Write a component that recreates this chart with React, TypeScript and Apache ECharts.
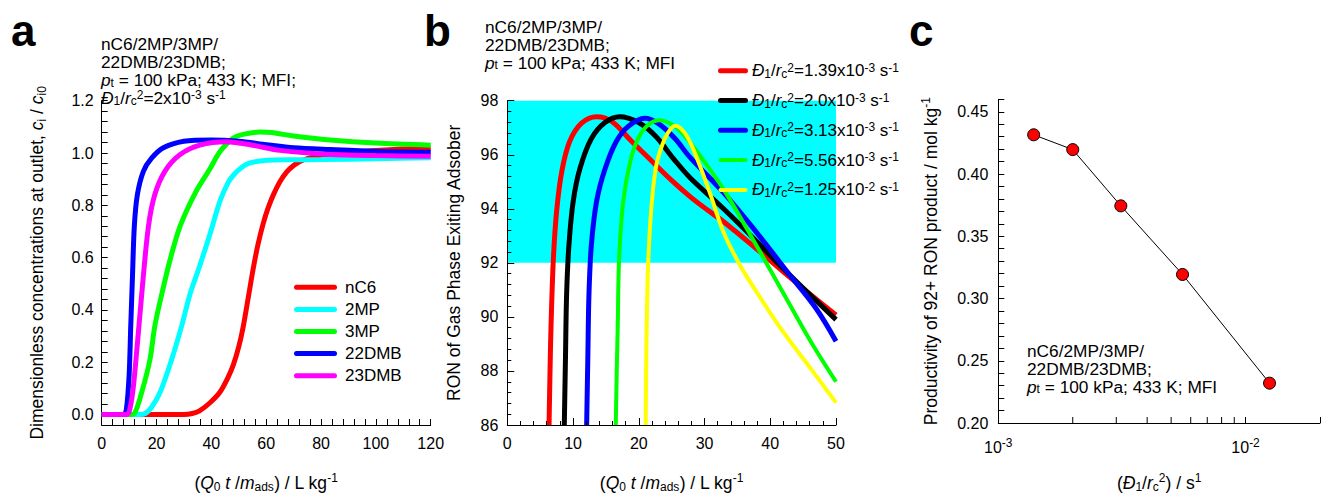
import React, { useEffect, useRef } from 'react';
import * as echarts from 'echarts';

const FONT = 'Liberation Sans, Arial, Helvetica, sans-serif';

// ---------- Panel a: breakthrough curves (x: Q0 t / m_ads, y: c_i / c_i0) ----------
const componentNames = ['nC6', '2MP', '3MP', '22DMB', '23DMB'];
const nC6 = [[0, 0], [30, 0], [33, 0.004], [35.8, 0.015], [39.5, 0.045], [43.1, 0.085], [46, 0.14], [48, 0.19], [50, 0.26], [51.6, 0.335], [53.5, 0.45], [55.3, 0.56], [57, 0.65], [58.9, 0.73], [60.7, 0.79], [62.6, 0.84], [65, 0.89], [67.5, 0.928], [70, 0.952], [72.3, 0.968], [77.2, 0.985], [83.3, 0.995], [90, 1.003], [100, 1.01], [110, 1.015], [120, 1.018]];
const mp2 = [[0, 0], [14, 0], [16, 0.005], [18, 0.025], [21.3, 0.085], [25.5, 0.21], [29.2, 0.34], [32.2, 0.46], [35.8, 0.57], [39.5, 0.69], [43.1, 0.815], [46, 0.885], [48, 0.915], [51, 0.945], [54.1, 0.962], [60.2, 0.972], [70, 0.974], [80, 0.975], [100, 0.978], [120, 0.982]];
const mp3 = [[0, 0], [10, 0], [12, 0.005], [14.6, 0.085], [17.6, 0.21], [19.4, 0.34], [21.9, 0.46], [24.9, 0.59], [28.6, 0.72], [34, 0.845], [39.5, 0.94], [43.1, 1.005], [48, 1.057], [52, 1.072], [57.7, 1.08], [62, 1.078], [70, 1.065], [83.3, 1.05], [100, 1.038], [120, 1.03]];
const dmb22 = [[0, 0], [8, 0], [9, 0.02], [10, 0.15], [10.6, 0.34], [11.2, 0.52], [11.9, 0.72], [13, 0.84], [15.2, 0.93], [18.2, 0.98], [22.5, 1.02], [30, 1.045], [40, 1.05], [50, 1.045], [60, 1.032], [70, 1.02], [83.3, 1.013], [100, 1.006], [120, 1.003]];
const dmb23 = [[0, 0], [9, 0], [10, 0.01], [11.3, 0.085], [12.5, 0.21], [14.6, 0.46], [17, 0.716], [19.4, 0.842], [23.1, 0.931], [28.6, 0.994], [35.8, 1.03], [45.6, 1.043], [55, 1.03], [65, 1.01], [83.3, 0.994], [100, 0.99], [120, 0.988]];
const breakthroughData = [nC6, mp2, mp3, dmb22, dmb23];
const breakthroughColors = ['#ff0000', '#00ffff', '#00ff00', '#0000ff', '#ff00ff'];

// ---------- Panel b: RON of gas phase exiting adsorber ----------
const diffMantissa = ['1.39', '2.0', '3.13', '5.56', '1.25'];
const diffExponent = ['-3', '-3', '-3', '-3', '-2'];
const ronD139 = [[6.35, 86], [6.5, 88], [6.65, 89.65], [7.0, 92.1], [7.5, 93.9], [8.3, 95.4], [9.5, 96.5], [11.3, 97.17], [13.6, 97.41], [15.9, 97.23], [18.9, 96.5], [22.0, 95.76], [25, 95.05], [27.8, 94.45], [30.3, 93.98], [32.9, 93.52], [37.9, 92.52], [42, 91.67], [46, 90.85], [50, 90.07]];
const ronD200 = [[8.67, 86], [8.85, 88.5], [9.03, 90.9], [9.39, 92.7], [10.04, 94.3], [11.06, 95.5], [12.8, 96.6], [14.9, 97.2], [17.1, 97.41], [19.9, 97.2], [22.5, 96.7], [25.3, 95.85], [27.8, 95.15], [32.9, 94.0], [37.9, 92.8], [41.5, 91.9], [45.5, 90.95], [50, 89.9]];
const ronD313 = [[12.07, 86], [12.25, 88.5], [12.43, 90.9], [12.8, 92.7], [13.6, 94.3], [14.9, 95.5], [16.6, 96.5], [18.4, 97.05], [20.9, 97.35], [23, 97.15], [25.5, 96.6], [27.8, 95.9], [32.9, 94.6], [37.9, 93.13], [43, 91.54], [47, 90.3], [50, 89.1]];
const ronD556 = [[16.5, 86], [16.65, 88], [16.8, 89.65], [17.0, 92.1], [17.6, 94.2], [18.7, 95.75], [19.9, 96.6], [21.4, 97.1], [23.2, 97.28], [25.5, 97.05], [27.3, 96.6], [29.2, 96.0], [32.9, 94.72], [37.9, 92.64], [43, 90.44], [46.5, 88.95], [50, 87.6]];
const ronD1250 = [[21.05, 86], [21.12, 88], [21.2, 89.65], [21.45, 92.1], [21.97, 94.2], [22.7, 95.65], [23.96, 96.6], [25, 97.0], [25.6, 97.07], [27, 96.8], [28.3, 96.2], [30.8, 94.6], [32.9, 93.13], [35.4, 91.91], [37.9, 90.93], [41.5, 89.6], [45.5, 88.3], [50, 86.83]];
const ronData = [ronD139, ronD200, ronD313, ronD556, ronD1250];
const ronColors = ['#ff0000', '#000000', '#0000ff', '#00ff00', '#ffff00'];
const ronWidths = [5, 5, 5, 4, 4];
const ronBandLow = 92;
const ronBandHigh = 98;

// ---------- Panel c: productivity vs D1/rc^2 ----------
const diffusivity = [1.39e-3, 2.0e-3, 3.13e-3, 5.56e-3, 1.25e-2];
const productivity = [0.4315, 0.4196, 0.3744, 0.3193, 0.232];
const logMinorTicks = [0.002, 0.003, 0.004, 0.005, 0.006, 0.007, 0.008, 0.009];

const BIG = 17.5;
const SMALL = 12;

const richStyles = (lh: number, size = BIG) => ({
  i: { fontStyle: 'italic', fontSize: size, lineHeight: lh, fontFamily: FONT, color: '#000' },
  sub: { fontSize: SMALL, lineHeight: 12, verticalAlign: 'bottom', fontFamily: FONT, color: '#000' },
  sup: { fontSize: SMALL, lineHeight: 12, verticalAlign: 'top', fontFamily: FONT, color: '#000' },
});

const nameStyle = {
  fontSize: BIG,
  lineHeight: 21,
  color: '#000',
  fontFamily: FONT,
  rich: richStyles(21),
};

const isMultiple = (v: number, step: number) => Math.abs(v / step - Math.round(v / step)) < 1e-6;

const axisLine = { show: true, onZero: false, lineStyle: { color: '#000', width: 1 } };
const labelBase = { color: '#000', fontSize: 16, fontFamily: FONT };

function buildOption() {
  const series: any[] = [];
  componentNames.forEach((name, i) => {
    series.push({
      name,
      type: 'line',
      xAxisIndex: 0,
      yAxisIndex: 0,
      data: breakthroughData[i],
      showSymbol: false,
      symbol: 'none',
      smooth: 0.3,
      lineStyle: { color: breakthroughColors[i], width: 5 },
      itemStyle: { color: breakthroughColors[i] },
      z: 2,
    });
  });
  ronData.forEach((d, i) => {
    const s: any = {
      name: `D1/rc2=${diffMantissa[i]}x10^${diffExponent[i]} s^-1`,
      type: 'line',
      xAxisIndex: 1,
      yAxisIndex: 1,
      data: d,
      showSymbol: false,
      symbol: 'none',
      smooth: 0.35,
      lineStyle: { color: ronColors[i], width: ronWidths[i] },
      itemStyle: { color: ronColors[i] },
      z: 2,
    };
    if (i === 0) {
      s.markArea = {
        silent: true,
        itemStyle: { color: '#00ffff', opacity: 1 },
        data: [[{ xAxis: 0, yAxis: ronBandLow }, { xAxis: 50, yAxis: ronBandHigh }]],
      };
    }
    series.push(s);
  });
  series.push({
    name: 'Productivity',
    type: 'line',
    xAxisIndex: 2,
    yAxisIndex: 2,
    data: diffusivity.map((d, i) => [d, productivity[i]]),
    symbol: 'circle',
    symbolSize: 12,
    lineStyle: { color: '#000', width: 1 },
    itemStyle: { color: '#ff0000', borderColor: '#000', borderWidth: 1 },
    z: 3,
  });
  series.push({
    type: 'custom',
    xAxisIndex: 2,
    yAxisIndex: 2,
    silent: true,
    data: logMinorTicks.map((v) => [v, 0.2]),
    renderItem: (params: any, api: any) => {
      const p = api.coord([api.value(0), api.value(1)]);
      return {
        type: 'line',
        shape: { x1: p[0], y1: p[1], x2: p[0], y2: p[1] - 6 },
        style: { stroke: '#000', lineWidth: 1 },
      };
    },
    z: 4,
  });

  const graphic: any[] = [];
  const panelLetter = (t: string, x: number) => ({
    type: 'text',
    z: 10,
    style: { text: t, x, y: 30, fontSize: 44, fontWeight: 'bold', fontFamily: FONT, fill: '#000', align: 'left', verticalAlign: 'middle' },
  });
  graphic.push(panelLetter('a', 11), panelLetter('b', 424), panelLetter('c', 909));

  const note = (text: string, x: number, y: number) => ({
    type: 'text',
    z: 10,
    style: {
      text, x, y, fontSize: 17.3, lineHeight: 17.8, fontFamily: FONT, fill: '#000',
      align: 'left', verticalAlign: 'top', rich: richStyles(17.8, 17.3),
    },
  });
  graphic.push(note('nC6/2MP/3MP/\n22DMB/23DMB;\n{i|p}{sub|t} = 100 kPa; 433 K; MFI;\n{i|Đ}{sub|1}/{i|r}{sub|c}{sup|2}=2x10{sup|-3} s{sup|-1}', 101, 35.5));
  graphic.push(note('nC6/2MP/3MP/\n22DMB/23DMB;\n{i|p}{sub|t} = 100 kPa; 433 K; MFI', 485, 18));
  graphic.push(note('nC6/2MP/3MP/\n22DMB/23DMB;\n{i|p}{sub|t} = 100 kPa; 433 K; MFI', 1027, 342));

  // legend a
  componentNames.forEach((name, i) => {
    const y = 287.3 + i * 22.1;
    graphic.push({ type: 'line', z: 10, shape: { x1: 296.5, y1: y, x2: 334.5, y2: y }, style: { stroke: breakthroughColors[i], lineWidth: 5, lineCap: 'round' } });
    graphic.push({ type: 'text', z: 10, style: { text: name, x: 345, y, fontSize: 17, fontFamily: FONT, fill: '#000', align: 'left', verticalAlign: 'middle' } });
  });
  // legend b
  diffMantissa.forEach((m, i) => {
    const y = 70.7 + i * 29.8;
    graphic.push({ type: 'line', z: 10, shape: { x1: 720.5, y1: y, x2: 745.5, y2: y }, style: { stroke: ronColors[i], lineWidth: ronWidths[i], lineCap: 'round' } });
    graphic.push({
      type: 'text', z: 10,
      style: {
        text: `{i|Đ}{sub|1}/{i|r}{sub|c}{sup|2}=${m}x10{sup|${diffExponent[i]}} s{sup|-1}`,
        x: 752, y, fontSize: 17, lineHeight: 18, fontFamily: FONT, fill: '#000', align: 'left', verticalAlign: 'middle', rich: richStyles(18, 17),
      },
    });
  });

  return {
    animation: false,
    backgroundColor: '#ffffff',
    textStyle: { fontFamily: FONT },
    grid: [
      { left: 101.7, top: 100.7, width: 329, height: 327.2 },
      { left: 507.3, top: 100.7, width: 328.7, height: 327 },
      { left: 998.3, top: 99.3, width: 327.5, height: 328.4 },
    ],
    xAxis: [
      {
        gridIndex: 0, type: 'value', min: 0, max: 120, interval: 4,
        axisLine, splitLine: { show: false },
        axisTick: { show: true, inside: true, length: 6, lineStyle: { color: '#000' } },
        axisLabel: { ...labelBase, margin: 10, formatter: (v: number) => (isMultiple(v, 20) ? String(Math.round(v)) : '') },
        name: '({i|Q}{sub|0} {i|t} /{i|m}{sub|ads}) / L kg{sup|-1}',
        nameLocation: 'middle', nameGap: 47, nameTextStyle: nameStyle,
      },
      {
        gridIndex: 1, type: 'value', min: 0, max: 50, interval: 10, z: 3,
        axisLine, splitLine: { show: false },
        axisTick: { show: true, inside: true, length: 7, lineStyle: { color: '#000' } },
        minorTick: { show: true, splitNumber: 5, length: 4, lineStyle: { color: '#000' } },
        axisLabel: { ...labelBase, margin: 10 },
        name: '({i|Q}{sub|0} {i|t} /{i|m}{sub|ads}) / L kg{sup|-1}',
        nameLocation: 'middle', nameGap: 47, nameTextStyle: nameStyle,
      },
      {
        gridIndex: 2, type: 'log', logBase: 10, min: 0.001, max: 0.02,
        axisLine, splitLine: { show: false },
        axisTick: { show: true, inside: true, length: 6, lineStyle: { color: '#000' } },
        axisLabel: {
          ...labelBase, margin: 14,
          formatter: (v: number) => {
            const e = Math.log10(v);
            return Math.abs(e - Math.round(e)) < 1e-6 ? `10{sup|${Math.round(e)}}` : '';
          },
          rich: { sup: { fontSize: SMALL, lineHeight: 12, verticalAlign: 'top', fontFamily: FONT, color: '#000' } },
          lineHeight: 20,
        },
        name: '({i|Đ}{sub|1}/{i|r}{sub|c}{sup|2}) / s{sup|1}',
        nameLocation: 'middle', nameGap: 49, nameTextStyle: nameStyle,
      },
    ],
    yAxis: [
      {
        gridIndex: 0, type: 'value', min: -0.04, max: 1.2, interval: 0.04,
        axisLine, splitLine: { show: false },
        axisTick: { show: true, inside: true, length: 6, lineStyle: { color: '#000' } },
        axisLabel: { ...labelBase, margin: 8, formatter: (v: number) => (isMultiple(v, 0.2) ? v.toFixed(1) : '') },
        name: 'Dimensionless concentrations at outlet, {i|c}{sub|i} / {i|c}{sub|i0}',
        nameLocation: 'middle', nameGap: 54, nameTextStyle: nameStyle,
      },
      {
        gridIndex: 1, type: 'value', min: 86, max: 98, interval: 2, z: 3,
        axisLine, splitLine: { show: false },
        axisTick: { show: true, inside: true, length: 7, lineStyle: { color: '#000' } },
        minorTick: { show: true, splitNumber: 5, length: 4, lineStyle: { color: '#000' } },
        axisLabel: { ...labelBase, margin: 9 },
        name: 'RON of Gas Phase Exiting Adsober',
        nameLocation: 'middle', nameGap: 43, nameTextStyle: nameStyle,
      },
      {
        gridIndex: 2, type: 'value', min: 0.2, max: 0.46, interval: 0.01,
        axisLine, splitLine: { show: false },
        axisTick: { show: true, inside: true, length: 6, lineStyle: { color: '#000' } },
        axisLabel: { ...labelBase, margin: 10, formatter: (v: number) => (isMultiple(v, 0.05) ? v.toFixed(2) : '') },
        name: 'Productivity of 92+ RON product / mol kg{sup|-1}',
        nameLocation: 'middle', nameGap: 57, nameTextStyle: nameStyle,
      },
    ],
    series,
    graphic,
  };
}

export default function App() {
  const ref = useRef<HTMLDivElement>(null);
  useEffect(() => {
    if (!ref.current) return;
    const chart = echarts.init(ref.current, null, { renderer: 'svg' });
    chart.setOption(buildOption() as any);
    return () => chart.dispose();
  }, []);
  return (
    <div
      ref={ref}
      style={{ position: 'fixed', left: 0, top: 0, width: 1323, height: 498, background: '#fff' }}
    />
  );
}
